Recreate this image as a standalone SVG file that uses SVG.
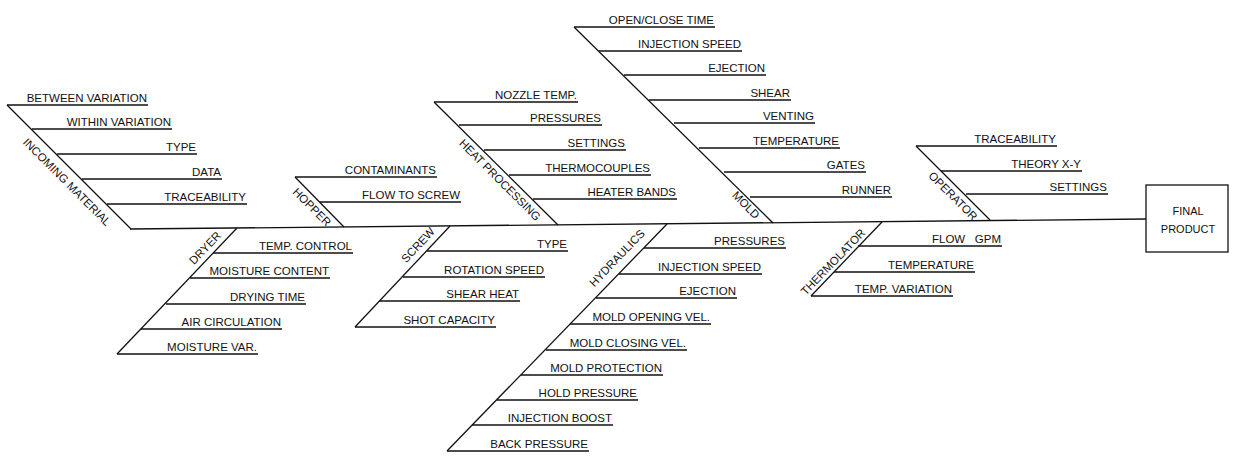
<svg xmlns="http://www.w3.org/2000/svg" width="1237" height="458" viewBox="0 0 1237 458">
<style>
line,.box{stroke:#111;stroke-width:1.3;fill:none}
text{font-family:"Liberation Sans",Arial,sans-serif;font-size:11.5px;fill:#111}
.r{text-anchor:end}
.c{text-anchor:middle;dominant-baseline:central}
.p{font-size:11px}
</style>
<rect x="0" y="0" width="1237" height="458" fill="#fff"/>
<g id="connectors">
<line x1="130" y1="229" x2="1146" y2="219"/>
</g>
<g id="incoming-material">
<line x1="7" y1="105" x2="131" y2="229"/>
<line x1="7" y1="105" x2="148" y2="105"/><text class="r" x="147" y="102">BETWEEN VARIATION</text>
<line x1="32" y1="129" x2="172" y2="129"/><text class="r" x="171" y="126">WITHIN VARIATION</text>
<line x1="57" y1="154" x2="197" y2="154"/><text class="r" x="196" y="151">TYPE</text>
<line x1="82" y1="179" x2="222" y2="179"/><text class="r" x="221" y="176">DATA</text>
<line x1="107" y1="204" x2="247" y2="204"/><text class="r" x="246" y="201">TRACEABILITY</text>
<text class="c" transform="translate(67,182) rotate(45)">INCOMING MATERIAL</text>
</g>
<g id="dryer">
<line x1="237" y1="228" x2="117" y2="354"/>
<line x1="213" y1="253" x2="353" y2="253"/><text class="r" x="352" y="250">TEMP. CONTROL</text>
<line x1="190" y1="278" x2="330" y2="278"/><text class="r" x="329" y="275">MOISTURE CONTENT</text>
<line x1="166" y1="304" x2="306" y2="304"/><text class="r" x="305" y="301">DRYING TIME</text>
<line x1="141" y1="329" x2="282" y2="329"/><text class="r" x="281" y="326">AIR CIRCULATION</text>
<line x1="117" y1="354" x2="258" y2="354"/><text class="r" x="257" y="351">MOISTURE VAR.</text>
<text class="c" transform="translate(205,248) rotate(-46)">DRYER</text>
</g>
<g id="hopper">
<line x1="295" y1="177" x2="344" y2="227"/>
<line x1="295" y1="177" x2="437" y2="177"/><text class="r" x="436" y="174">CONTAMINANTS</text>
<line x1="320" y1="202" x2="461" y2="202"/><text class="r" x="460" y="199">FLOW TO SCREW</text>
<text class="c" transform="translate(312,207) rotate(45)">HOPPER</text>
</g>
<g id="screw">
<line x1="450" y1="226" x2="355" y2="327"/>
<line x1="427" y1="251" x2="568" y2="251"/><text class="r" x="567" y="248">TYPE</text>
<line x1="403" y1="277" x2="545" y2="277"/><text class="r" x="544" y="274">ROTATION SPEED</text>
<line x1="379" y1="301" x2="520" y2="301"/><text class="r" x="519" y="298">SHEAR HEAT</text>
<line x1="355" y1="327" x2="496" y2="327"/><text class="r" x="495" y="324">SHOT CAPACITY</text>
<text class="c" transform="translate(418,245) rotate(-47)">SCREW</text>
</g>
<g id="heat-processing">
<line x1="434" y1="102" x2="558" y2="225"/>
<line x1="434" y1="102" x2="578" y2="102"/><text class="r" x="577" y="99">NOZZLE TEMP.</text>
<line x1="459" y1="125" x2="602" y2="125"/><text class="r" x="601" y="122">PRESSURES</text>
<line x1="484" y1="150" x2="626" y2="150"/><text class="r" x="625" y="147">SETTINGS</text>
<line x1="509" y1="175" x2="651" y2="175"/><text class="r" x="650" y="172">THERMOCOUPLES</text>
<line x1="533" y1="199" x2="677" y2="199"/><text class="r" x="676" y="196">HEATER BANDS</text>
<text class="c" transform="translate(500,180) rotate(45)">HEAT PROCESSING</text>
</g>
<g id="hydraulics">
<line x1="667" y1="224" x2="447" y2="451"/>
<line x1="644" y1="248" x2="786" y2="248"/><text class="r" x="785" y="245">PRESSURES</text>
<line x1="619" y1="274" x2="762" y2="274"/><text class="r" x="761" y="271">INJECTION SPEED</text>
<line x1="596" y1="298" x2="737" y2="298"/><text class="r" x="736" y="295">EJECTION</text>
<line x1="570" y1="324" x2="711" y2="324"/><text class="r" x="710" y="321">MOLD OPENING VEL.</text>
<line x1="546" y1="350" x2="687" y2="350"/><text class="r" x="686" y="347">MOLD CLOSING VEL.</text>
<line x1="521" y1="375" x2="663" y2="375"/><text class="r" x="662" y="372">MOLD PROTECTION</text>
<line x1="497" y1="400" x2="638" y2="400"/><text class="r" x="637" y="397">HOLD PRESSURE</text>
<line x1="472" y1="425" x2="613" y2="425"/><text class="r" x="612" y="422">INJECTION BOOST</text>
<line x1="447" y1="451" x2="589" y2="451"/><text class="r" x="588" y="448">BACK PRESSURE</text>
<text class="c" transform="translate(617,258) rotate(-46)">HYDRAULICS</text>
</g>
<g id="mold">
<line x1="574" y1="27" x2="773" y2="223"/>
<line x1="574" y1="27" x2="715" y2="27"/><text class="r" x="714" y="24">OPEN/CLOSE TIME</text>
<line x1="599" y1="51" x2="742" y2="51"/><text class="r" x="741" y="48">INJECTION SPEED</text>
<line x1="624" y1="75" x2="766" y2="75"/><text class="r" x="765" y="72">EJECTION</text>
<line x1="649" y1="100" x2="791" y2="100"/><text class="r" x="790" y="97">SHEAR</text>
<line x1="674" y1="123" x2="815" y2="123"/><text class="r" x="814" y="120">VENTING</text>
<line x1="699" y1="148" x2="840" y2="148"/><text class="r" x="839" y="145">TEMPERATURE</text>
<line x1="724" y1="172" x2="866" y2="172"/><text class="r" x="865" y="169">GATES</text>
<line x1="750" y1="197" x2="892" y2="197"/><text class="r" x="891" y="194">RUNNER</text>
<text class="c" transform="translate(746,205) rotate(45)">MOLD</text>
</g>
<g id="thermolator">
<line x1="882" y1="222" x2="811" y2="296"/>
<line x1="858" y1="246" x2="1002" y2="246"/><text class="r" x="1001" y="243" xml:space="preserve" style="white-space:pre">FLOW   GPM</text>
<line x1="834" y1="272" x2="975" y2="272"/><text class="r" x="974" y="269">TEMPERATURE</text>
<line x1="811" y1="296" x2="953" y2="296"/><text class="r" x="952" y="293">TEMP. VARIATION</text>
<text class="c" transform="translate(833,262) rotate(-46)">THERMOLATOR</text>
</g>
<g id="operator">
<line x1="916" y1="146" x2="990" y2="220"/>
<line x1="916" y1="146" x2="1057" y2="146"/><text class="r" x="1056" y="143">TRACEABILITY</text>
<line x1="941" y1="171" x2="1082" y2="171"/><text class="r" x="1081" y="168">THEORY X-Y</text>
<line x1="966" y1="194" x2="1108" y2="194"/><text class="r" x="1107" y="191">SETTINGS</text>
<text class="c" transform="translate(953,196) rotate(45)">OPERATOR</text>
</g>
<g id="final-product">
<rect class="box" x="1146" y="185" width="82" height="67"/>
<text class="p" x="1188" y="215" text-anchor="middle">FINAL</text>
<text class="p" x="1188" y="233" text-anchor="middle">PRODUCT</text>
</g>
</svg>
